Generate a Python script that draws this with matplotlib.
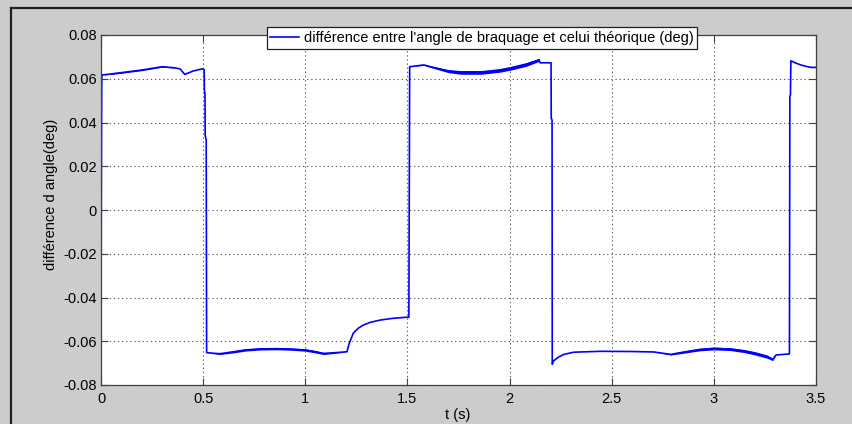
import matplotlib
matplotlib.use("Agg")
import matplotlib.pyplot as plt
from matplotlib.lines import Line2D
import numpy as np

plt.rcParams['font.family'] = ['Liberation Sans', 'DejaVu Sans']
plt.rcParams['axes.unicode_minus'] = False

# ---- data ----
t = [0.000, 0.003, 0.004, 0.050, 0.100, 0.200, 0.300, 0.360, 0.387, 0.410, 0.450, 0.494, 0.503,
     0.505, 0.506, 0.509, 0.510, 0.515, 0.517,
     0.550, 0.583, 0.650, 0.706, 0.780, 0.861, 0.930, 1.000, 1.050, 1.090, 1.150, 1.204,
     1.215, 1.235, 1.260, 1.284, 1.320, 1.368, 1.430, 1.500, 1.507,
     1.511, 1.580, 1.613, 1.700, 1.760, 1.860, 1.950, 2.005, 2.080, 2.144, 2.150, 2.203,
     2.204, 2.208, 2.209,
     2.215, 2.240, 2.266, 2.315, 2.446, 2.600, 2.706, 2.750, 2.789, 2.850, 2.930, 3.000, 3.080,
     3.150, 3.200, 3.260, 3.288, 3.304, 3.370,
     3.372, 3.375, 3.377, 3.400, 3.426, 3.450, 3.475, 3.500]
v = [-0.0488, 0.0520, 0.0617, 0.0622, 0.0628, 0.0640, 0.0655, 0.0650, 0.0645, 0.0620, 0.0635, 0.0645, 0.0643,
     0.0640, 0.0550, 0.0530, 0.0340, 0.0320, -0.0652,
     -0.0655, -0.0657, -0.0648, -0.0640, -0.0635, -0.0634, -0.0636, -0.0640, -0.0648, -0.0656, -0.0652, -0.0648,
     -0.0610, -0.0563, -0.0540, -0.0526, -0.0513, -0.0503, -0.0495, -0.0490, -0.0490,
     0.0655, 0.0663, 0.0655, 0.0635, 0.0629, 0.0629, 0.0638, 0.0648, 0.0665, 0.0686, 0.0673, 0.0673,
     0.0420, 0.0410, -0.0705,
     -0.0690, -0.0672, -0.0660, -0.0650, -0.0646, -0.0647, -0.0649, -0.0655, -0.0660, -0.0650, -0.0638, -0.0633, -0.0636,
     -0.0645, -0.0655, -0.0670, -0.0683, -0.0663, -0.0658,
     0.0520, 0.0526, 0.0682, 0.0672, 0.0663, 0.0657, 0.0652, 0.0652]
# thickness of the fast-oscillation band around the curve
spread = [0, 0, 0, 0.0004, 0.0006, 0.0006, 0.0004, 0.0002, 0, 0, 0, 0, 0,
          0, 0, 0, 0, 0, 0,
          0.0003, 0.0007, 0.0010, 0.0010, 0.0010, 0.0010, 0.0010, 0.0011, 0.0011, 0.0010, 0.0005, 0,
          0, 0, 0, 0, 0, 0, 0, 0, 0,
          0, 0.0003, 0.0007, 0.0014, 0.0017, 0.0017, 0.0017, 0.0017, 0.0017, 0.0014, 0, 0,
          0, 0, 0,
          0, 0, 0, 0, 0, 0, 0, 0.0003, 0.0006, 0.0010, 0.0012, 0.0013, 0.0013,
          0.0014, 0.0015, 0.0015, 0.0011, 0, 0,
          0, 0, 0, 0, 0, 0, 0, 0]

xticks = [0, 0.5, 1, 1.5, 2, 2.5, 3, 3.5]
xticklabels = ['0', '0.5', '1', '1.5', '2', '2.5', '3', '3.5']
yticks = [-0.08, -0.06, -0.04, -0.02, 0, 0.02, 0.04, 0.06, 0.08]
yticklabels = ['-0.08', '-0.06', '-0.04', '-0.02', '0', '0.02', '0.04', '0.06', '0.08']

legend_label = "différence entre l'angle de braquage et celui théorique (deg)"
xlabel = 't (s)'
ylabel = "différence d angle(deg)"

# ---- figure ----
W, H = 852, 424
fs = 10.5
fig = plt.figure(figsize=(W / 100, H / 100), dpi=100, facecolor='#cccccc')
ax = fig.add_axes([101 / W, 39 / H, 715 / W, 350 / H])
ax.set_facecolor('white')

tt = np.array(t)
vv = np.array(v)
ss = np.array(spread)
ax.fill_between(tt, vv - ss / 2, vv + ss / 2, color='#0000ff', linewidth=0)
line, = ax.plot(tt, vv, color='#0000ff', linewidth=1.2, label=legend_label)

ax.set_xlim(0, 3.5)
ax.set_ylim(-0.08, 0.08)
ax.set_xticks(xticks)
ax.set_xticklabels(xticklabels)
ax.set_yticks(yticks)
ax.set_yticklabels(yticklabels)
ax.tick_params(direction='in', length=5, width=0.8, color='#404040', labelsize=fs,
               top=True, right=True, pad=3, labelcolor='black')
ax.tick_params(axis='x', pad=5)
ax.grid(True, color='#606060', linestyle=(0, (1.2, 2.5)), linewidth=0.8)
for s in ax.spines.values():
    s.set_color('#404040')
    s.set_linewidth(0.9)

ax.set_xlabel(xlabel, fontsize=fs)
ax.xaxis.set_label_coords((458 - 101) / 715, (385 - 415) / 350)
ax.xaxis.label.set_va('center')
ax.set_ylabel(ylabel, fontsize=fs)
ax.yaxis.set_label_coords((51 - 101) / 715, (385 - 194) / 350)
ax.yaxis.label.set_va('center')

leg = fig.legend(handles=[line], loc='center', bbox_to_anchor=(481.8 / W, 1 - 38 / H),
                 fontsize=fs, frameon=True, fancybox=False, shadow=False,
                 borderpad=0.25, handlelength=2.0, handletextpad=0.3, borderaxespad=0)
leg.get_frame().set_edgecolor('#202020')
leg.get_frame().set_linewidth(0.9)
leg.get_frame().set_facecolor('white')
leg.get_frame().set_alpha(1)

# window border (top and left)
fig.add_artist(Line2D([11 / W, 1], [1 - 8 / H, 1 - 8 / H], transform=fig.transFigure,
                      color='#202020', linewidth=1.6))
fig.add_artist(Line2D([11 / W, 11 / W], [0, 1 - 8 / H], transform=fig.transFigure,
                      color='#202020', linewidth=1.6))

fig.savefig('out.png', dpi=100, facecolor=fig.get_facecolor())
